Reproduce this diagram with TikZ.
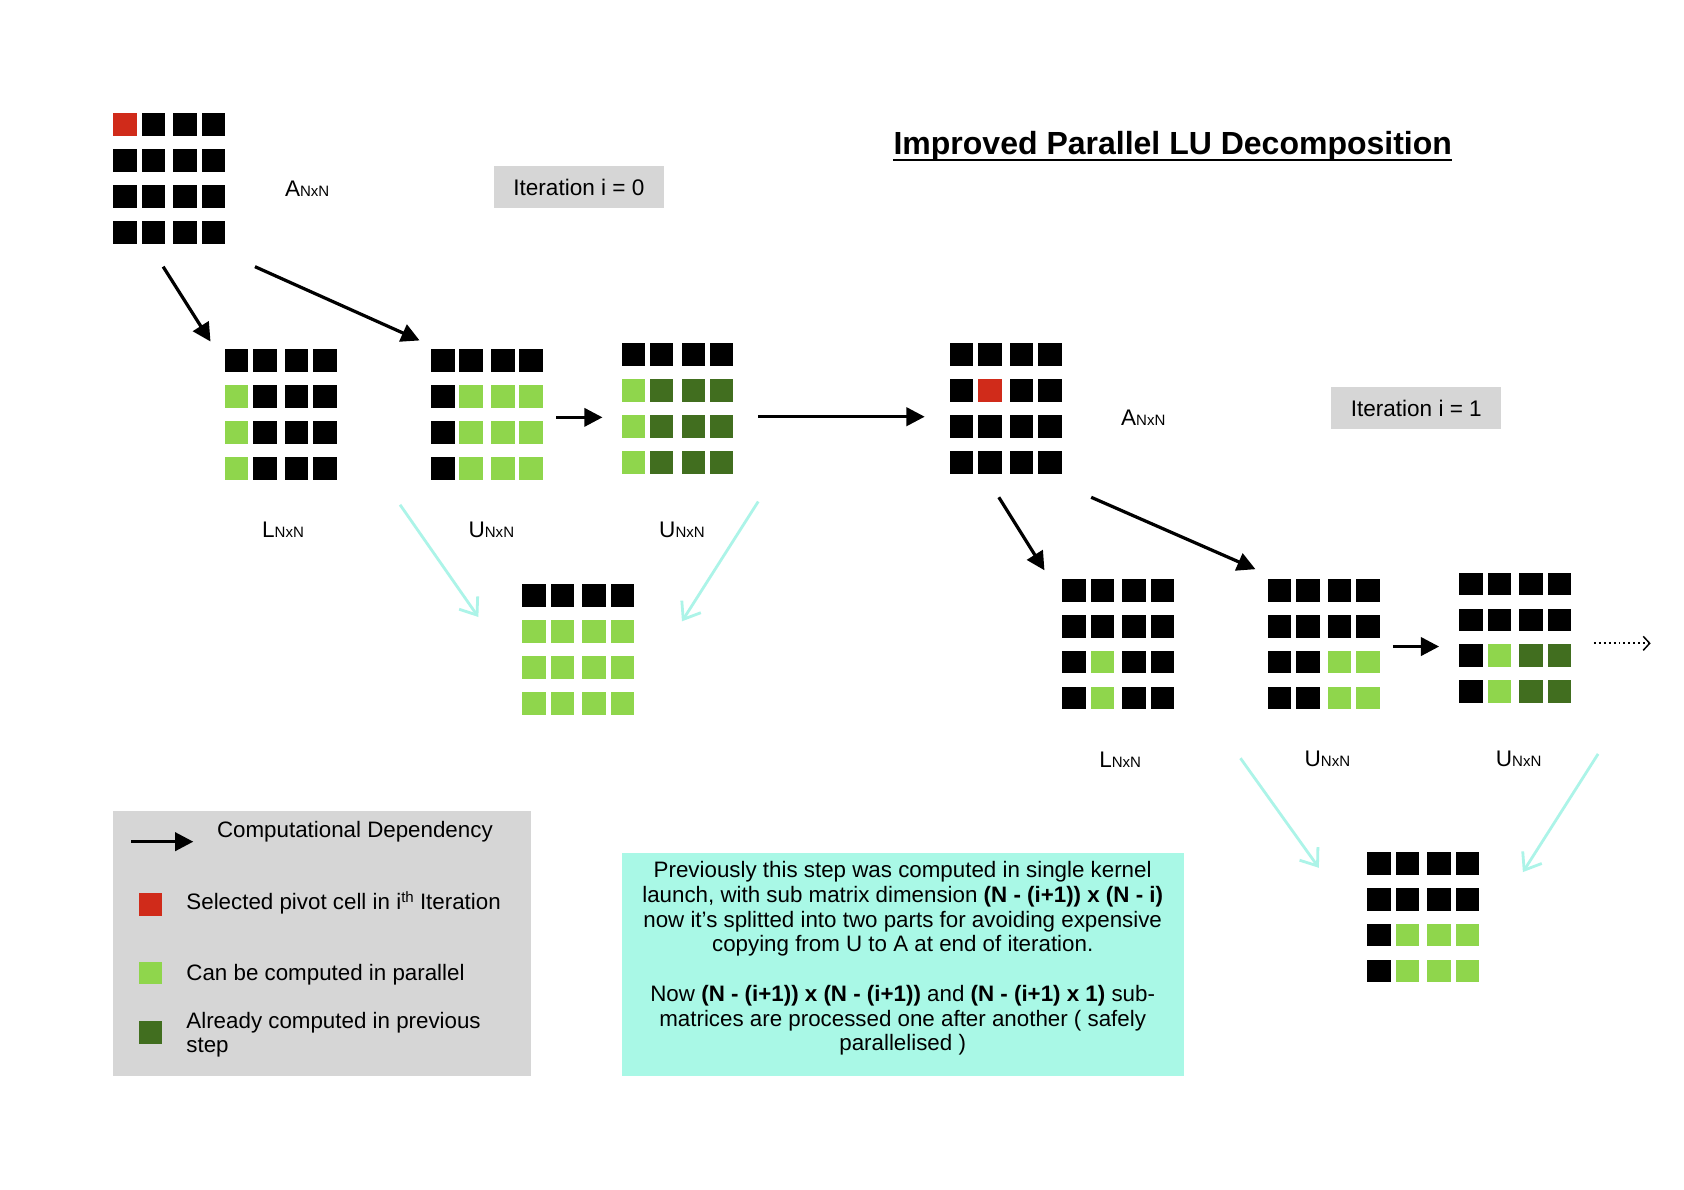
\documentclass[tikz,border=0pt]{standalone}
\usepackage{fontspec}
\setmainfont{Liberation Sans}
\usetikzlibrary{arrows.meta,calc}
\definecolor{mk}{HTML}{000000}
\definecolor{mr}{HTML}{D02B1A}
\definecolor{mg}{HTML}{8FD64C}
\definecolor{md}{HTML}{416E1F}
\definecolor{cgray}{HTML}{D6D6D6}
\definecolor{ccyan}{HTML}{A9F8E6}
\definecolor{carrow}{HTML}{ACF4E8}
\newcommand{\cellmat}[4]{%
  \node[matbox] (#1) at (#2+52,#3+60.7) {};
  \foreach \cl [count=\i from 0] in {#4} {
    \pgfmathtruncatemacro{\cc}{mod(\i,4)}
    \pgfmathtruncatemacro{\rr}{\i/4}
    \pgfmathsetmacro{\cx}{#2+26.4*\cc+3.1*(\cc>1)}
    \pgfmathsetmacro{\cy}{#3+33.43*\rr}
    \fill[\cl] (\cx,\cy) rectangle ++(21.8,21.1);
  }%
}
\newcommand{\mlab}[1]{#1{\fontsize{7}{8}\selectfont NxN}}
\begin{document}
\begin{tikzpicture}[x=0.5pt,y=-0.5pt,
  matbox/.style={rectangle,inner sep=0pt,minimum width=52pt,minimum height=60.7pt},
  dep/.style={line width=1.5pt,-{Triangle[length=8.5pt,width=8.5pt]}},
  merge/.style={carrow,line width=1.3pt,-{Straight Barb[length=7pt,width=10.5pt,line width=1.3pt]}},
  lab/.style={font=\fontsize{10.5}{12}\selectfont,inner sep=0pt},
  iterbox/.style={fill=cgray,minimum width=79pt,minimum height=19.5pt,inner sep=0pt,font=\fontsize{10.5}{12}\selectfont},
  legtxt/.style={font=\fontsize{10.4}{11.2}\selectfont,inner sep=0pt,anchor=west,align=left}]
\useasboundingbox (0,0) rectangle (1568,1108);
\fill[white] (0,0) rectangle (1568,1108);

% title
\node[anchor=base,inner sep=0pt,font=\fontsize{14.9}{17}\bfseries\selectfont] (title) at (1092,143.5) {Improved Parallel LU Decomposition};
\draw[line width=0.95pt] ([yshift=-2.6pt]title.base west) -- ([yshift=-2.6pt]title.base east);

% iteration 0
\cellmat{A0}{105.5}{105.5}{mr,mk,mk,mk, mk,mk,mk,mk, mk,mk,mk,mk, mk,mk,mk,mk}
\cellmat{L0}{209.5}{325.2}{mk,mk,mk,mk, mg,mk,mk,mk, mg,mk,mk,mk, mg,mk,mk,mk}
\cellmat{U0}{401.4}{325.2}{mk,mk,mk,mk, mk,mg,mg,mg, mk,mg,mg,mg, mk,mg,mg,mg}
\cellmat{U0b}{578.8}{319.7}{mk,mk,mk,mk, mg,md,md,md, mg,md,md,md, mg,md,md,md}
\cellmat{M0}{486.3}{544}{mk,mk,mk,mk, mg,mg,mg,mg, mg,mg,mg,mg, mg,mg,mg,mg}

\node[lab] (A0lab) at (286,175.5) {\mlab{A}};
\node[lab] (L0lab) at (263.5,493) {\mlab{L}};
\node[lab] (U0lab) at (457.5,493) {\mlab{U}};
\node[lab] (U0blab) at (635,493) {\mlab{U}};
\node[iterbox] (it0) at (539,174.5) {Iteration i = 0};

\coordinate (a0l) at (151.9,248.3);
\coordinate (l0t) at (196,318);
\coordinate (a0u) at (237.4,248.3);
\coordinate (u0t) at (390.7,317);
\coordinate (u0r) at (518,388.6);
\coordinate (u0bl) at (561,388.6);
\coordinate (u0br) at (706,388);
\coordinate (a1l) at (861,388);
\draw[dep] (a0l) -- (l0t);
\draw[dep] (a0u) -- (u0t);
\draw[dep] (u0r) -- (u0bl);
\draw[dep] (u0br) -- (a1l);

\coordinate (c0a) at (372.5,470);
\coordinate (c0b) at (445.4,574.5);
\coordinate (c0c) at (706,467);
\coordinate (c0d) at (635,578.5);
\draw[merge] (c0a) -- (c0b);
\draw[merge] (c0c) -- (c0d);

% iteration 1
\cellmat{A1}{884.5}{319.7}{mk,mk,mk,mk, mk,mr,mk,mk, mk,mk,mk,mk, mk,mk,mk,mk}
\cellmat{L1}{989.2}{539.1}{mk,mk,mk,mk, mk,mk,mk,mk, mk,mg,mk,mk, mk,mg,mk,mk}
\cellmat{U1}{1180.4}{539.1}{mk,mk,mk,mk, mk,mk,mk,mk, mk,mk,mg,mg, mk,mk,mg,mg}
\cellmat{U1b}{1358.7}{533.2}{mk,mk,mk,mk, mk,mk,mk,mk, mk,mg,md,md, mk,mg,md,md}
\cellmat{M1}{1273.1}{793.3}{mk,mk,mk,mk, mk,mk,mk,mk, mk,mg,mg,mg, mk,mg,mg,mg}

\node[lab] (A1lab) at (1064.5,389) {\mlab{A}};
\node[lab] (L1lab) at (1043,707) {\mlab{L}};
\node[lab] (U1lab) at (1236,707) {\mlab{U}};
\node[lab] (U1blab) at (1414,707) {\mlab{U}};
\node[iterbox] (it1) at (1318.7,380.2) {Iteration i = 1};

\coordinate (a1a) at (930,463);
\coordinate (l1t) at (972.5,531);
\coordinate (a1b) at (1016,463);
\coordinate (u1t) at (1169,530);
\coordinate (u1r) at (1297,602);
\coordinate (u1bl) at (1340,602);
\draw[dep] (a1a) -- (l1t);
\draw[dep] (a1b) -- (u1t);
\draw[dep] (u1r) -- (u1bl);

\coordinate (dots0) at (1484,599);
\coordinate (dots1) at (1537,599);
\draw[line width=0.8pt,dash pattern=on 0.9pt off 1.4pt,-{Straight Barb[length=3pt,width=6.5pt,line width=0.7pt]}] (dots0) -- (dots1);

\coordinate (c1a) at (1155,706);
\coordinate (c1b) at (1228,808);
\coordinate (c1c) at (1488,702);
\coordinate (c1d) at (1418,812);
\draw[merge] (c1a) -- (c1b);
\draw[merge] (c1c) -- (c1d);

% legend
\node[fill=cgray,minimum width=194.3pt,minimum height=123.5pt,inner sep=0pt] (legend) at (299.8,878.5) {};
\coordinate (lga) at (122,783.7);
\coordinate (lgb) at (180,783.7);
\draw[dep] (lga) -- (lgb);
\node[legtxt] (lg1) at (201.7,774) {Computational Dependency};
\fill[mr] (129,831.2) rectangle (151.1,852.9);
\node[legtxt] (lg2) at (173.2,840.5) {Selected pivot cell in i\raisebox{3.2pt}{\fontsize{7}{8}\selectfont th} Iteration};
\fill[mg] (129,895.4) rectangle (151.1,916.5);
\node[legtxt] (lg3) at (173.2,907.5) {Can be computed in parallel};
\fill[md] (129,950.4) rectangle (151.1,971.7);
\node[legtxt] (lg4) at (173.2,963) {Already computed in previous\\step};

% note
\node[fill=ccyan,minimum width=261.5pt,minimum height=104pt,inner sep=0pt] (note) at (840.5,898) {};
\node[inner sep=0pt,align=center,font=\fontsize{10.4}{11.5}\selectfont] (notetxt) at (840.5,892.5) {Previously this step was computed in single kernel\\launch, with sub matrix dimension \textbf{(N - (i+1)) x (N - i)}\\now it’s splitted into two parts for avoiding expensive\\copying from U to A at end of iteration.\\[11.5pt]Now \textbf{(N - (i+1)) x (N - (i+1))} and \textbf{(N - (i+1) x 1)} sub-\\matrices are processed one after another ( safely\\parallelised )};
\end{tikzpicture}
\end{document}
